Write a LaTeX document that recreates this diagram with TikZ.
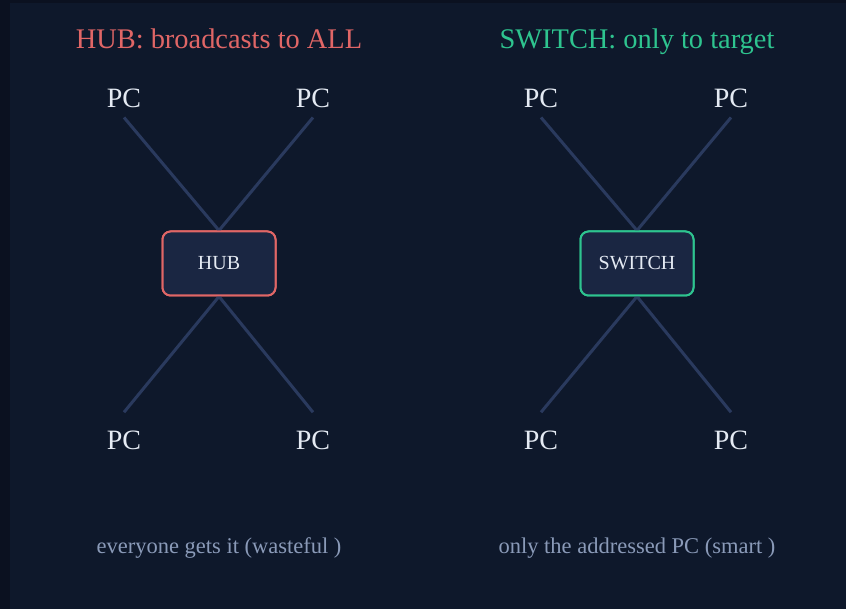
\documentclass[tikz,border=0pt]{standalone}
\usepackage{fontspec}
\setmainfont{Liberation Serif}
\begin{document}
\begin{tikzpicture}[x=1pt,y=1pt,
  title/.style={anchor=base,font=\fontsize{28.4}{30}\selectfont},
  pc/.style={anchor=base,inner sep=0pt,text=pctext,font=\fontsize{28}{30}\selectfont},
  devbox/.style={draw=#1,line width=2pt,fill=boxfill,rounded corners=8pt,
    minimum width=113pt,minimum height=64pt,inner sep=0pt,
    text=pctext,font=\fontsize{20}{22}\selectfont},
  wire/.style={draw=wirecol,line width=3pt},
  caption/.style={anchor=base,text=captext,font=\fontsize{22.5}{24}\selectfont}]
\definecolor{outerbg}{HTML}{0B1120}
\definecolor{panelbg}{HTML}{0E182B}
\definecolor{boxfill}{HTML}{1A2642}
\definecolor{wirecol}{HTML}{2A3A5E}
\definecolor{pctext}{HTML}{E4EAF3}
\definecolor{captext}{HTML}{8A9AB8}
\definecolor{hubred}{HTML}{E06666}
\definecolor{swgreen}{HTML}{2EC48F}

% canvas and panel
\fill[outerbg] (0,0) rectangle (846,609);
\fill[panelbg] (10,0) rectangle (846,606);
\useasboundingbox (0,0) rectangle (846,609);

% titles
\node[title,text=hubred] (t1) at (219,560) {HUB: broadcasts to ALL};
\node[title,text=swgreen] (t2) at (637,560) {SWITCH: only to target};

% hub side
\node[pc] (h1) at (124,501) {PC};
\node[pc] (h2) at (313,501) {PC};
\node[pc] (h3) at (124,159) {PC};
\node[pc] (h4) at (313,159) {PC};
\node[devbox=hubred] (hub) at (219,345.5) {HUB};
\draw[wire] ([yshift=-9pt]h1.south) -- (hub.north);
\draw[wire] ([yshift=-9pt]h2.south) -- (hub.north);
\draw[wire] (hub.south) -- ([yshift=19pt]h3.north);
\draw[wire] (hub.south) -- ([yshift=19pt]h4.north);

% switch side
\node[pc] (s1) at (541,501) {PC};
\node[pc] (s2) at (731,501) {PC};
\node[pc] (s3) at (541,159) {PC};
\node[pc] (s4) at (731,159) {PC};
\node[devbox=swgreen] (sw) at (637,345.5) {SWITCH};
\draw[wire] ([yshift=-9pt]s1.south) -- (sw.north);
\draw[wire] ([yshift=-9pt]s2.south) -- (sw.north);
\draw[wire] (sw.south) -- ([yshift=19pt]s3.north);
\draw[wire] (sw.south) -- ([yshift=19pt]s4.north);

% redraw boxes over the wire ends
\node[devbox=hubred] at (hub.center) {HUB};
\node[devbox=swgreen] at (sw.center) {SWITCH};

% captions
\node[caption] (c1) at (219,55) {everyone gets it (wasteful )};
\node[caption] (c2) at (637,55) {only the addressed PC (smart )};
\end{tikzpicture}
\end{document}
